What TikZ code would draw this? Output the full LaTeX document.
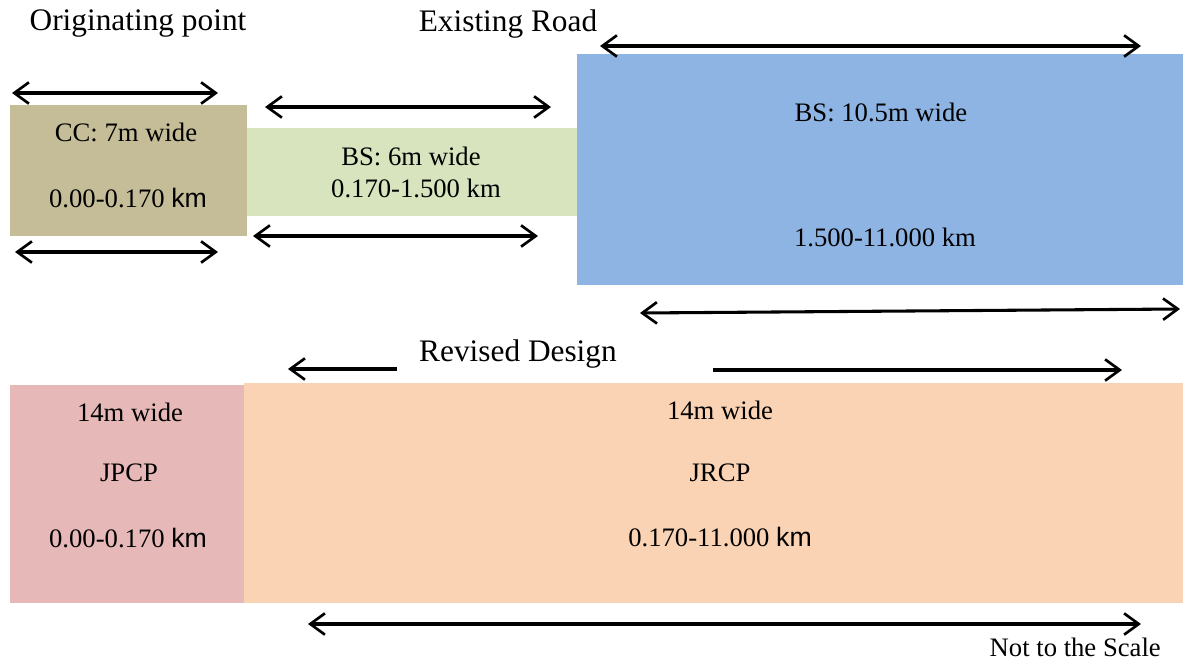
\documentclass[tikz,border=0pt]{standalone}
\usepackage{fontspec}
\setmainfont{Liberation Serif}
\newfontfamily\kmfont{Liberation Sans}
\usetikzlibrary{arrows.meta}
\definecolor{tanc}{HTML}{C4BD97}
\definecolor{greenc}{HTML}{D7E4BD}
\definecolor{bluec}{HTML}{8EB4E3}
\definecolor{pinkc}{HTML}{E6B9B8}
\definecolor{peachc}{HTML}{FAD2B4}
\tikzset{
  title/.style={font=\fontsize{23.5}{26}\selectfont, inner sep=0pt},
  lbl/.style={font=\fontsize{20}{23}\selectfont, inner sep=0pt},
  dim/.style={line width=2.3pt, {Straight Barb[length=11pt,width=16pt,line width=2pt]}-{Straight Barb[length=11pt,width=16pt,line width=2pt]}},
  dimr/.style={line width=2.3pt, -{Straight Barb[length=11pt,width=16pt,line width=2pt]}},
  diml/.style={line width=2.3pt, {Straight Barb[length=11pt,width=16pt,line width=2pt]}-},
}
\begin{document}
\begin{tikzpicture}[x=0.75pt,y=-0.75pt]
\useasboundingbox (0,0) rectangle (1183,661);
% existing road segments
\fill[tanc] (10,105) rectangle (247,236);
\fill[greenc] (247,128) rectangle (577,216);
\fill[bluec] (577,54) rectangle (1183,285);
% revised design segments
\fill[pinkc] (10,385) rectangle (244,603);
\fill[peachc] (244,383) rectangle (1183,603);

% titles
\node[title] (orig) at (138,24) {Originating point};
\node[title] (exist) at (508,24) {Existing Road};
\node[title] (rev) at (518,354) {Revised Design};
\node[lbl, anchor=east] (nts) at (1161,647) {Not to the Scale};

% labels
\node[lbl] (cc1) at (126,132) {CC: 7m wide};
\node[lbl] (cc2) at (128,198) {0.00-0.170 {\kmfont km}};
\node[lbl] (bs1) at (411,156) {BS: 6m wide};
\node[lbl] (bs2) at (416,188) {0.170-1.500 km};
\node[lbl] (bb1) at (881,112) {BS: 10.5m wide};
\node[lbl] (bb2) at (885,237) {1.500-11.000 km};
\node[lbl] (jp1) at (130,412) {14m wide};
\node[lbl] (jp2) at (129,473) {JPCP};
\node[lbl] (jp3) at (128,538) {0.00-0.170 {\kmfont km}};
\node[lbl] (jr1) at (720,410) {14m wide};
\node[lbl] (jr2) at (720,473) {JRCP};
\node[lbl] (jr3) at (720,537) {0.170-11.000 {\kmfont km}};

% arrow end points
\coordinate (a1l) at (12,93);  \coordinate (a1r) at (218,93);
\coordinate (a2l) at (15,252); \coordinate (a2r) at (218,252);
\coordinate (a3l) at (265,107); \coordinate (a3r) at (551,107);
\coordinate (a4l) at (253,236); \coordinate (a4r) at (538,236);
\coordinate (a5l) at (600,46); \coordinate (a5r) at (1141,46);
\coordinate (a6l) at (640,313); \coordinate (a6r) at (1180,309);
\coordinate (a7l) at (288,369); \coordinate (a7r) at (397,369);
\coordinate (a8l) at (713,370); \coordinate (a8r) at (1122,370);
\coordinate (a9l) at (308,624); \coordinate (a9r) at (1141,624);

\draw[dim] (a1l) -- (a1r);
\draw[dim] (a2l) -- (a2r);
\draw[dim] (a3l) -- (a3r);
\draw[dim] (a4l) -- (a4r);
\draw[dim] (a5l) -- (a5r);
\draw[dim] (a6l) -- (a6r);
\draw[diml] (a7l) -- (a7r);
\draw[dimr] (a8l) -- (a8r);
\draw[dim] (a9l) -- (a9r);
\end{tikzpicture}
\end{document}
